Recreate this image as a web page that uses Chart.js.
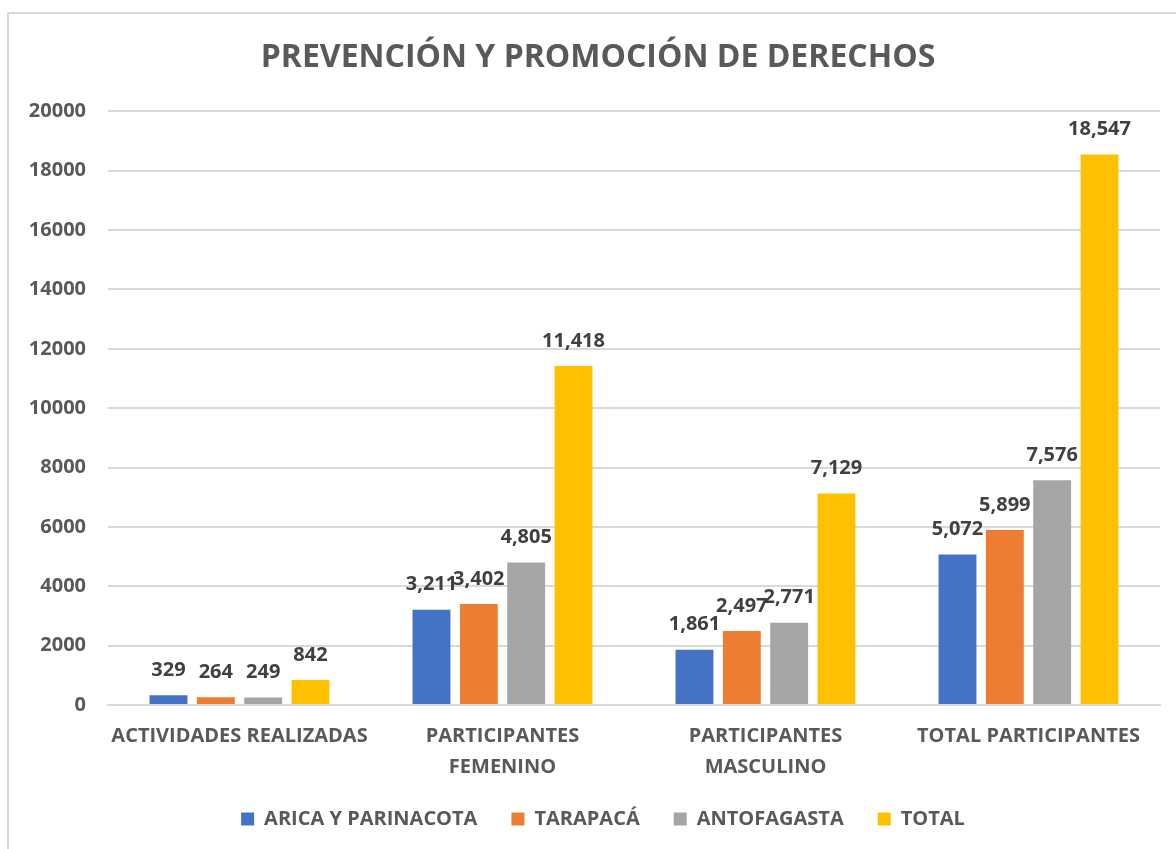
<!DOCTYPE html>
<html>
<head>
<meta charset="utf-8">
<title>Prevención y promoción de derechos</title>
<script src="https://cdn.jsdelivr.net/npm/chart.js@4.4.1/dist/chart.umd.min.js"></script>
<style>
  html, body { margin: 0; padding: 0; background: #fff; overflow: hidden; }
  #frame {
    position: absolute; left: 7px; top: 12px; width: 1200px; height: 900px;
    border: 2px solid #d9d9d9; box-sizing: border-box;
  }
  #wrap { position: absolute; left: 0; top: 0; width: 1176px; height: 849px; }
</style>
</head>
<body>
<div id="frame"></div>
<div id="wrap"><canvas id="chart" width="1176" height="849"></canvas></div>
<script>
const categories = [
  'ACTIVIDADES REALIZADAS',
  ['PARTICIPANTES', 'FEMENINO'],
  ['PARTICIPANTES', 'MASCULINO'],
  'TOTAL PARTICIPANTES'
];
const aricaValues = [329, 3211, 1861, 5072];
const tarapacaValues = [264, 3402, 2497, 5899];
const antofagastaValues = [249, 4805, 2771, 7576];
const totalValues = [842, 11418, 7129, 18547];
const yTicks = [0, 2000, 4000, 6000, 8000, 10000, 12000, 14000, 16000, 18000, 20000];

const FONT = '"Open Sans", "DejaVu Sans", sans-serif';

// value labels above every bar
const barLabels = {
  id: 'barLabels',
  afterDatasetsDraw(chart) {
    const ctx = chart.ctx;
    ctx.save();
    ctx.font = 'bold 20px ' + FONT;
    ctx.fillStyle = '#404040';
    ctx.textAlign = 'center';
    ctx.textBaseline = 'middle';
    chart.data.datasets.forEach((ds, i) => {
      chart.getDatasetMeta(i).data.forEach((bar, j) => {
        ctx.fillText(ds.data[j].toLocaleString('en-US'), bar.x, bar.y - 25);
      });
    });
    ctx.restore();
  }
};

// title and legend are centred on the outer frame, not on the canvas
const centerHeader = {
  id: 'centerHeader',
  afterLayout(chart) {
    const shift = (box, dx) => { if (box) { box.left += dx; box.right += dx; } };
    shift(chart.titleBlock, 18);
    shift(chart.legend, 23);
  }
};

new Chart(document.getElementById('chart'), {
  type: 'bar',
  data: {
    labels: categories,
    datasets: [
      { label: 'ARICA Y PARINACOTA', data: aricaValues, backgroundColor: '#4472C4' },
      { label: 'TARAPACÁ', data: tarapacaValues, backgroundColor: '#ED7D31' },
      { label: 'ANTOFAGASTA', data: antofagastaValues, backgroundColor: '#A5A5A5' },
      { label: 'TOTAL', data: totalValues, backgroundColor: '#FFC000' }
    ]
  },
  options: {
    responsive: false,
    animation: false,
    categoryPercentage: 0.72,
    barPercentage: 0.8,
    layout: { padding: { left: 0, right: 16, top: 0, bottom: 10 } },
    plugins: {
      title: {
        display: true,
        text: 'PREVENCIÓN Y PROMOCIÓN DE DERECHOS',
        color: '#595959',
        font: { family: FONT, size: 32, weight: 'bold' },
        padding: { top: 39, bottom: 34 }
      },
      legend: {
        position: 'bottom',
        labels: {
          color: '#595959',
          font: { family: FONT, size: 20, weight: 'bold' },
          boxWidth: 13,
          boxHeight: 13,
          padding: 34
        }
      },
      tooltip: { enabled: false }
    },
    scales: {
      x: {
        afterFit(scale) { scale.height = 70; },
        grid: { display: false },
        border: { display: true, color: '#d9d9d9', width: 2 },
        ticks: {
          color: '#595959',
          font: { family: FONT, size: 20, weight: 'bold', lineHeight: 1.55 },
          maxRotation: 0,
          autoSkip: false,
          padding: 8
        }
      },
      y: {
        min: 0,
        max: 20000,
        afterBuildTicks(scale) { scale.ticks = yTicks.map(v => ({ value: v })); },
        afterFit(scale) { scale.width = 108; },
        grid: { color: '#d9d9d9', lineWidth: 2, drawTicks: false },
        border: { display: false },
        ticks: {
          color: '#595959',
          font: { family: FONT, size: 20, weight: 'bold' },
          padding: 22,
          callback: v => String(v)
        }
      }
    }
  },
  plugins: [barLabels, centerHeader]
});
</script>
</body>
</html>
